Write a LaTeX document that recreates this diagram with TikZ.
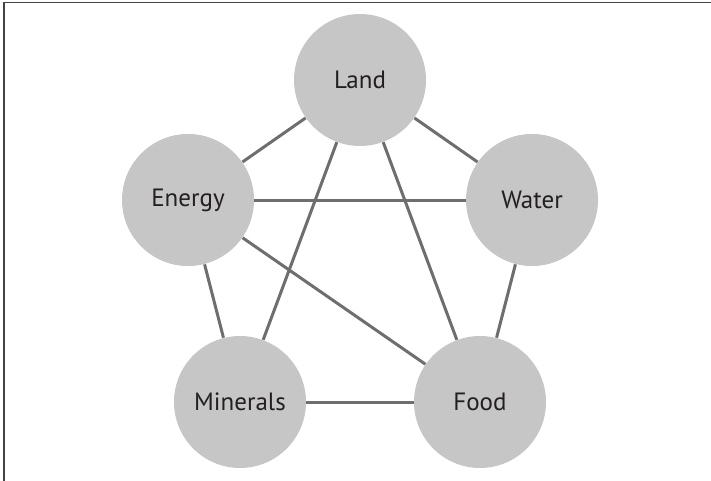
\documentclass[tikz,border=0pt]{standalone}
\usepackage{fontspec}
\setmainfont{PT Sans}
\usepackage{tikz}

\definecolor{linkgray}{HTML}{6E6E6E}
\definecolor{discgray}{HTML}{C6C6C6}
\definecolor{framegray}{HTML}{444444}
\definecolor{labelgray}{HTML}{231F20}

\begin{document}
\begin{tikzpicture}[x=0.5pt, y=-0.5pt,
	resource/.style={circle, fill=discgray, minimum size=66pt, inner sep=0pt, text=labelgray, font=\fontsize{12.5}{14}\selectfont},
	link/.style={linkgray, line width=1.5pt}]

	\useasboundingbox (0,0) rectangle (711,481);
	\draw[framegray, line width=1pt] (3.7,481) -- (3.7,2.5);
	\draw[framegray, line width=0.6pt] (2.7,2.5) -- (711,2.5);

	% the five resources
	\node[resource] (land) at (360,80) {Land};
	\node[resource] (energy) at (188,200) {Energy};
	\node[resource] (water) at (532,200) {Water};
	\node[resource] (minerals) at (240,402) {Minerals};
	\node[resource] (food) at (480,402) {Food};

	% links stop at the disc borders
	\foreach \a/\b in {land/energy, land/water, land/minerals, land/food, energy/water, energy/minerals, energy/food, water/food, minerals/food}
		\draw[link] (\a) -- (\b);

\end{tikzpicture}
\end{document}
